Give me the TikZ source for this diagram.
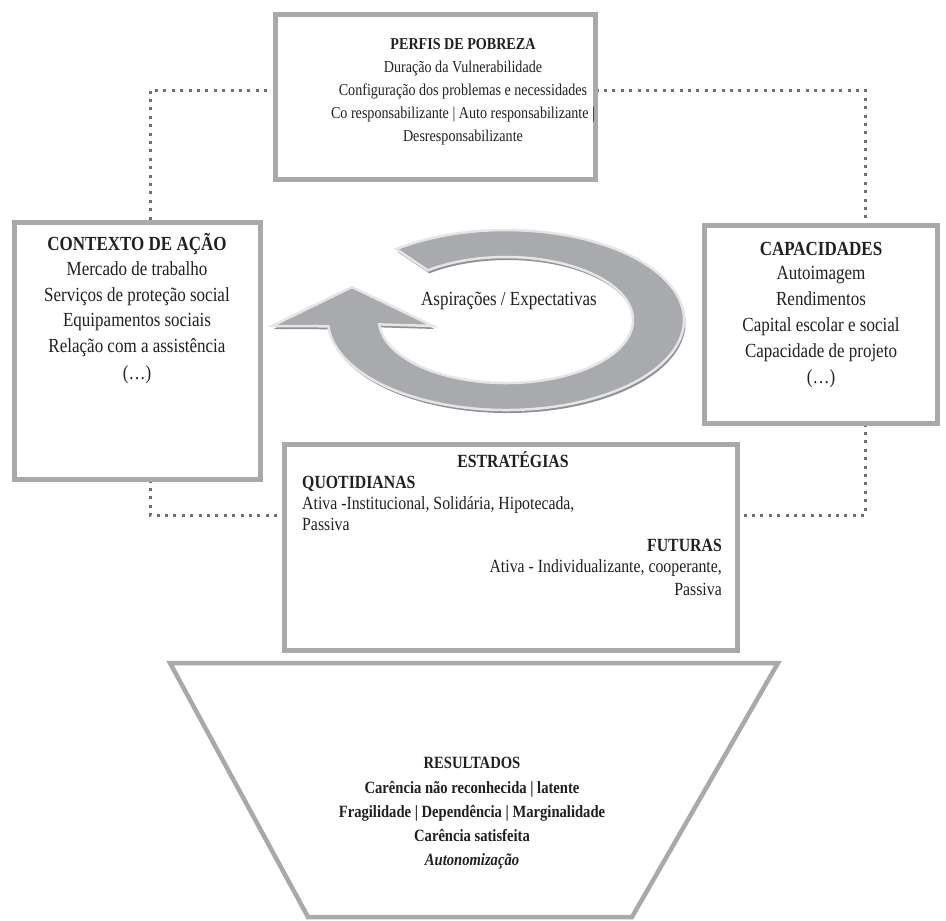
\documentclass[tikz,border=0pt]{standalone}
\usepackage{fontspec}
\setmainfont[FakeStretch=0.85]{Liberation Serif}
\usetikzlibrary{calc}
\definecolor{boxgray}{HTML}{A7A9AC}
\definecolor{dotgray}{HTML}{6F7072}
\definecolor{ringfill}{HTML}{A8AAAD}
\definecolor{ringlight}{HTML}{E4E5E6}
\definecolor{ringshadow}{HTML}{8F9093}
\definecolor{txt}{HTML}{231F20}
\begin{document}
\begin{tikzpicture}[x=1pt,y=1pt,
  box/.style={draw=boxgray,line width=5pt,inner sep=0pt,outer sep=0pt},
  geom/.style={inner sep=0pt,outer sep=0pt,draw=none,fill=none},
  dotline/.style={draw=dotgray,line width=3pt,dash pattern=on 3pt off 5.4pt},
  ptxt/.style={anchor=base,inner sep=0pt,text=txt,font=\fontsize{16.6}{20}\selectfont},
  ctxt/.style={anchor=base,inner sep=0pt,text=txt,font=\fontsize{20}{24}\selectfont},
  etxt/.style={inner sep=0pt,text=txt,font=\fontsize{18.6}{22}\selectfont},
  rtxt/.style={anchor=base,inner sep=0pt,text=txt,font=\fontsize{17.2}{20}\selectfont\bfseries}]
\useasboundingbox (0,0) rectangle (946,-921);
\fill[white] (0,0) rectangle (946,-921);

% boxes (geometry)
\path (435.5,-97) node[geom,minimum width=320pt,minimum height=165pt] (perfis) {};
\path (137.5,-351) node[geom,minimum width=246pt,minimum height=257pt] (contexto) {};
\path (821,-324.5) node[geom,minimum width=233pt,minimum height=198pt] (capac) {};
\path (511,-547.5) node[geom,minimum width=453pt,minimum height=206pt] (estrat) {};

% dotted connectors
\coordinate (tl) at (150,-90);
\coordinate (tr) at (865,-90);
\coordinate (bl) at (150,-515);
\coordinate (br) at (865,-515);
\draw[dotline] (perfis.west |- tl) -- (tl) -- (tl |- contexto.north);
\draw[dotline] (perfis.east |- tr) -- (tr) -- (tr |- capac.north);
\draw[dotline] (bl |- contexto.south) -- (bl) -- (estrat.west |- bl);
\draw[dotline] (br |- capac.south) -- (br) -- (estrat.east |- br);

% draw boxes
\draw[box] (perfis.south west) rectangle (perfis.north east);
\draw[box] (contexto.south west) rectangle (contexto.north east);
\draw[box] (capac.south west) rectangle (capac.north east);
\draw[box] (estrat.south west) rectangle (estrat.north east);

% trapezoid
\coordinate (t1) at (170,-663);
\coordinate (t2) at (778,-663);
\coordinate (t3) at (632,-917);
\coordinate (t4) at (308,-917);
\draw[draw=boxgray,line width=4.5pt,line join=miter] (t1) -- (t2) -- (t3) -- (t4) -- cycle;

% circular arrow
\def\ringpath{(272,-326) -- (352,-287) -- (433,-326) -- (379.3,-324.4)
  arc[start angle=184,end angle=488,x radius=127pt,y radius=63pt]
  -- (396.4,-249.1)
  arc[start angle=488,end angle=184,x radius=178pt,y radius=90pt]
  -- cycle}
\fill[ringshadow,shift={(1.5pt,-3pt)}] \ringpath;
\draw[fill=ringfill,draw=ringlight,line width=2.5pt,line join=miter] \ringpath;
\node[anchor=base,inner sep=0pt,text=txt,font=\fontsize{20}{24}\selectfont] (asp) at (509,-305) {Aspirações / Expectativas};

% PERFIS text
\node[ptxt,font=\fontsize{16.6}{20}\selectfont\bfseries] (p1) at (463,-49) {PERFIS DE POBREZA};
\node[ptxt] (p2) at (463,-72) {Duração da Vulnerabilidade};
\node[ptxt] (p3) at (463,-95) {Configuração dos problemas e necessidades};
\node[ptxt] (p4) at (463,-118) {Co responsabilizante | Auto responsabilizante |};
\node[ptxt] (p5) at (463,-141) {Desresponsabilizante};

% CONTEXTO text
\node[ctxt,font=\fontsize{20}{24}\selectfont\bfseries] (c1) at (137,-250) {CONTEXTO DE AÇÃO};
\node[ctxt] (c2) at (137,-275) {Mercado de trabalho};
\node[ctxt] (c3) at (137,-301) {Serviços de proteção social};
\node[ctxt] (c4) at (137,-326) {Equipamentos sociais};
\node[ctxt] (c5) at (137,-352) {Relação com a assistência};
\node[ctxt] (c6) at (137,-379) {(…)};

% CAPACIDADES text
\node[ctxt,font=\fontsize{20}{24}\selectfont\bfseries] (k1) at (821,-255) {CAPACIDADES};
\node[ctxt] (k2) at (821,-279) {Autoimagem};
\node[ctxt] (k3) at (821,-305) {Rendimentos};
\node[ctxt] (k4) at (821,-331) {Capital escolar e social};
\node[ctxt] (k5) at (821,-357) {Capacidade de projeto};
\node[ctxt] (k6) at (821,-383) {(…)};

% ESTRATEGIAS text
\node[etxt,anchor=base,font=\fontsize{18.6}{22}\selectfont\bfseries] (e1) at (513,-467) {ESTRATÉGIAS};
\node[etxt,anchor=base west,font=\fontsize{18.6}{22}\selectfont\bfseries] (e2) at (302,-488) {QUOTIDIANAS};
\node[etxt,anchor=base west] (e3) at (302,-509) {Ativa -Institucional, Solidária, Hipotecada,};
\node[etxt,anchor=base west] (e4) at (302,-530) {Passiva};
\node[etxt,anchor=base east,font=\fontsize{18.6}{22}\selectfont\bfseries] (e5) at (722,-551) {FUTURAS};
\node[etxt,anchor=base east] (e6) at (722,-572) {Ativa - Individualizante, cooperante,};
\node[etxt,anchor=base east] (e7) at (722,-595) {Passiva};

% RESULTADOS text
\node[rtxt] (r1) at (472,-768) {RESULTADOS};
\node[rtxt] (r2) at (472,-793) {Carência não reconhecida | latente};
\node[rtxt] (r3) at (472,-817) {Fragilidade | Dependência | Marginalidade};
\node[rtxt] (r4) at (472,-841) {Carência satisfeita};
\node[rtxt,font=\fontsize{17.2}{20}\selectfont\bfseries\itshape] (r5) at (472,-865) {Autonomização};
\end{tikzpicture}
\end{document}
